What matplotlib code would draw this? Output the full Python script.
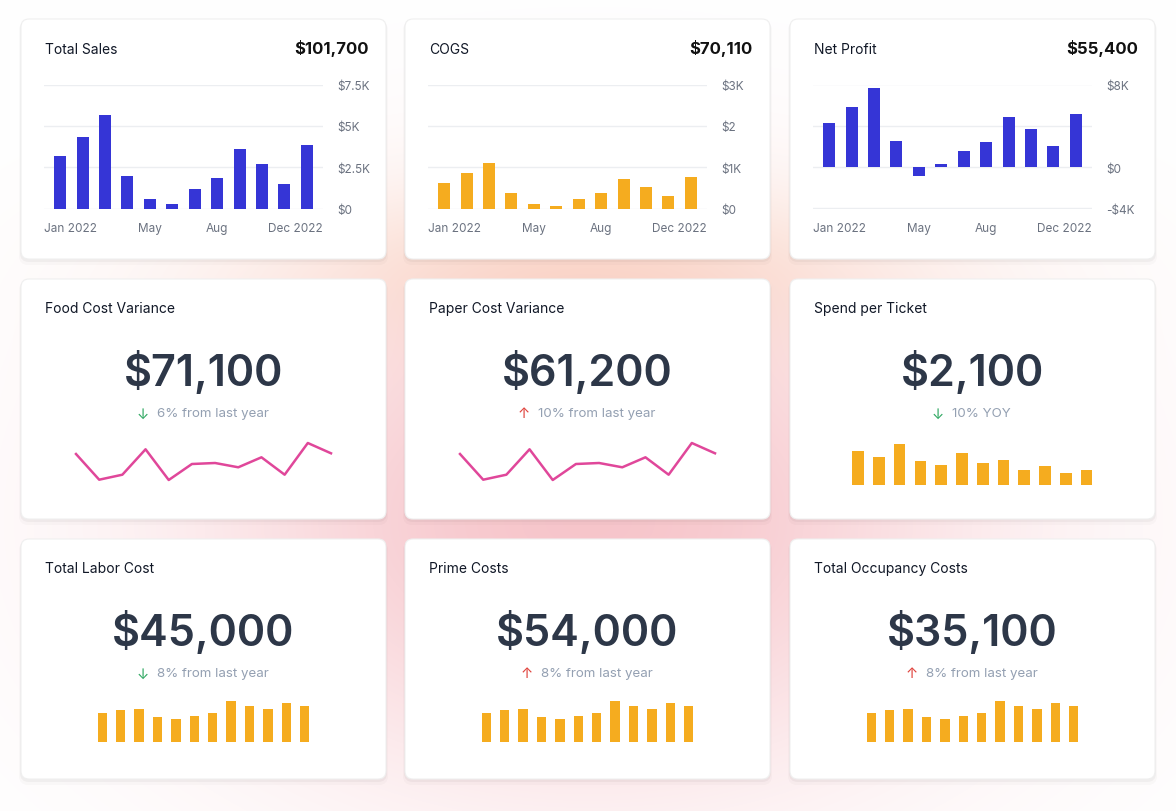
import numpy as np
import matplotlib
matplotlib.use('Agg')
import matplotlib.pyplot as plt
from matplotlib.patches import FancyBboxPatch

plt.rcParams['font.family'] = ['Inter', 'DejaVu Sans']

# Data
months = ['Jan 2022', 'Feb', 'Mar', 'Apr', 'May', 'Jun', 'Jul', 'Aug', 'Sep', 'Oct', 'Nov', 'Dec 2022']
total_sales = [3.17, 4.31, 5.63, 1.94, 0.58, 0.30, 1.15, 1.85, 3.59, 2.68, 1.51, 3.83]   # $K
cogs = [0.62, 0.85, 1.11, 0.38, 0.11, 0.06, 0.23, 0.37, 0.71, 0.52, 0.30, 0.76]          # $K
net_profit = [4.26, 5.87, 7.68, 2.58, -0.81, 0.35, 1.52, 2.48, 4.87, 3.65, 2.03, 5.19]  # $K

top_titles = ['Total Sales', 'COGS', 'Net Profit']
top_totals = ['$101,700', '$70,110', '$55,400']
top_ticks = [[0, 2.5, 5, 7.5], [0, 1, 2, 3], [-4, 0, 4, 8]]
top_ticklabels = [['$0', '$2.5K', '$5K', '$7.5K'], ['$0', '$1K', '$2', '$3K'], ['-$4K', '$0', '', '$8K']]

variance_trend = [45, 19.3, 24.3, 49.7, 19, 35, 36, 31.7, 41.7, 24.3, 56, 45.7]
spend_trend = [33.3, 27.3, 40.3, 23.7, 19.3, 32, 21.7, 25, 14.7, 19, 11.7, 14.7]
cost_trend = [29.7, 32, 33.3, 25, 23, 26, 29.7, 41.3, 36.3, 33.3, 39, 36.3]

mid_titles = ['Food Cost Variance', 'Paper Cost Variance', 'Spend per Ticket']
mid_values = ['$71,100', '$61,200', '$2,100']
mid_notes = ['6% from last year', '10% from last year', '10% YOY']
mid_dirs = ['down', 'up', 'down']

bot_titles = ['Total Labor Cost', 'Prime Costs', 'Total Occupancy Costs']
bot_values = ['$45,000', '$54,000', '$35,100']
bot_notes = ['8% from last year', '8% from last year', '8% from last year']
bot_dirs = ['down', 'up', 'up']

BLUE = '#3535d6'
ORANGE = '#f5ac1f'
PINK = '#e0479a'
GREEN = '#2fa862'
RED = '#e0443e'
GRID = '#eceef1'
TICK = '#6b7280'

W, H = 1176, 812
CARD_X = [21, 405, 790]
CARD_Y = [20, 280, 540]
CW, CH = 365, 240

fig = plt.figure(figsize=(W / 100, H / 100), dpi=100)
bg = fig.add_axes([0, 0, 1, 1])
bg.set_xlim(0, W)
bg.set_ylim(H, 0)
bg.axis('off')

# soft glow behind the cards
yy, xx = np.mgrid[0:H, 0:W]
pink = 0.55 * np.exp(-(((xx - 588) / 270) ** 2 + ((yy - 520) / 180) ** 2) / 2)
peach = 0.35 * np.exp(-(((xx - 588) / 230) ** 2 + ((yy - 270) / 60) ** 2) / 2)
img = np.ones((H, W, 3))
for c, (pc, kc) in enumerate(zip((240, 150, 160), (250, 200, 160))):
    img[..., c] = 1 - pink * (1 - pc / 255) - peach * (1 - kc / 255)
bg.imshow(np.clip(img, 0, 1), extent=(0, W, H, 0), aspect='auto', zorder=0)

for cy in CARD_Y:
    for cx in CARD_X:
        for off, a in [(4, 0.02), (2, 0.035)]:
            bg.add_patch(FancyBboxPatch((cx - off / 2, cy + off / 2), CW + off, CH + off,
                                        boxstyle='round,pad=0,rounding_size=9',
                                        fc=(0, 0, 0, a), ec='none', zorder=1))
        bg.add_patch(FancyBboxPatch((cx, cy), CW, CH, boxstyle='round,pad=0,rounding_size=8',
                                    fc='white', ec='#efefef', lw=0.8, zorder=2))


def px_axes(x0, y0, x1, y1):
    ax = fig.add_axes([x0 / W, 1 - y1 / H, (x1 - x0) / W, (y1 - y0) / H])
    ax.patch.set_alpha(0)
    for s in ax.spines.values():
        s.set_visible(False)
    return ax


# top row: monthly bar charts
for i, (series, color) in enumerate([(total_sales, BLUE), (cogs, ORANGE), (net_profit, BLUE)]):
    cx, cy = CARD_X[i], CARD_Y[0]
    bg.text(cx + 24, cy + 29.5, top_titles[i], fontsize=10, color='#111827', va='center', zorder=3)
    bg.text(cx + 348, cy + 28.5, top_totals[i], fontsize=12, weight='bold', color='#111111',
            ha='right', va='center', zorder=3)
    ax = px_axes(cx + 23, cy + 65.5, cx + 302, cy + 189.5)
    x = np.arange(len(series))
    ax.bar(x, series, width=0.54, color=color, zorder=2)
    ticks = top_ticks[i]
    ax.set_ylim(ticks[0], ticks[-1])
    ax.set_xlim(-0.72, 11.72)
    ax.set_yticks(ticks, top_ticklabels[i])
    ax.yaxis.tick_right()
    ax.yaxis.grid(True, color=GRID, lw=1)
    ax.set_axisbelow(True)
    ax.tick_params(axis='y', length=0, pad=10, labelsize=8.5, labelcolor=TICK)
    ax.set_xticks([-0.72, 4, 7, 11.72], [months[0], months[4][:3], 'Aug', months[11]])
    ax.tick_params(axis='x', length=0, pad=10, labelsize=8.5, labelcolor=TICK)
    for lbl, ha in zip(ax.get_xticklabels(), ['left', 'center', 'center', 'right']):
        lbl.set_ha(ha)


def kpi(cx, cy, title, value, note, direction):
    bg.text(cx + 24, cy + 29.5, title, fontsize=10, color='#111827', va='center', zorder=3)
    bg.text(cx + CW / 2, cy + 93.5, value, fontsize=31, weight='semibold', color='#2d3748',
            ha='center', va='center', zorder=3)
    t = bg.text(cx + CW / 2 + 9, cy + 134.5, note, fontsize=9.6, color='#94a0b2',
                ha='center', va='center', zorder=3)
    bg.annotate('↓' if direction == 'down' else '↑', xy=(0, 0.5), xycoords=t,
                xytext=(-6, 0), textcoords='offset points', ha='right', va='center',
                fontsize=10.5, color=GREEN if direction == 'down' else RED, zorder=3)


# middle row
for i in range(3):
    cx, cy = CARD_X[i], CARD_Y[1]
    kpi(cx, cy, mid_titles[i], mid_values[i], mid_notes[i], mid_dirs[i])
    if i < 2:
        ax = px_axes(cx + 55, cy + 164, cx + 310, cy + 201)
        ax.plot(np.arange(len(variance_trend)), variance_trend, color=PINK, lw=1.8, clip_on=False)
        ax.set_xlim(0, len(variance_trend) - 1)
        ax.set_ylim(min(variance_trend), max(variance_trend))
    else:
        ax = px_axes(cx + 57.6, cy + 160.7, cx + 307, cy + 205.7)
        ax.bar(np.arange(len(spend_trend)), spend_trend, width=0.56, color=ORANGE)
        ax.set_xlim(-0.5, 11.5)
        ax.set_ylim(0, 45)
    ax.set_xticks([])
    ax.set_yticks([])

# bottom row
for i in range(3):
    cx, cy = CARD_X[i], CARD_Y[2]
    kpi(cx, cy, bot_titles[i], bot_values[i], bot_notes[i], bot_dirs[i])
    ax = px_axes(cx + 72.1, cy + 158.3, cx + 292.9, cy + 203.3)
    ax.bar(np.arange(len(cost_trend)), cost_trend, width=0.51, color=ORANGE)
    ax.set_xlim(-0.5, 11.5)
    ax.set_ylim(0, 45)
    ax.set_xticks([])
    ax.set_yticks([])

fig.savefig('out.png', dpi=100)
